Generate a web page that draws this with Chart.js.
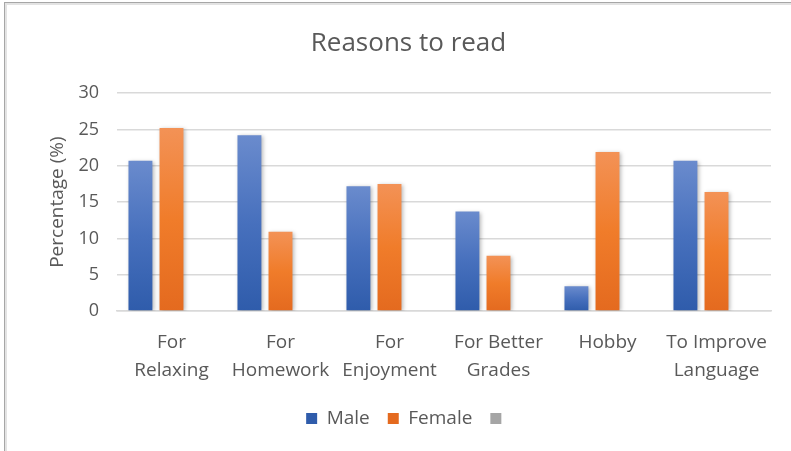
<!DOCTYPE html>
<html>
<head>
<meta charset="utf-8">
<script src="https://cdn.jsdelivr.net/npm/chart.js@4.4.0/dist/chart.umd.min.js"></script>
<style>
  html, body { margin: 0; padding: 0; background: #fff; }
  #wrap { position: relative; width: 791px; height: 451px; overflow: hidden; }
  #frame { position: absolute; left: 4px; top: 2px; right: -10px; bottom: -10px;
    border-left: 1px solid #a6a6a6; border-top: 1px solid #a6a6a6; }
  #frame2 { position: absolute; left: 0; top: 0; right: 0; bottom: 0;
    border-left: 2px solid #e3e3e3; border-top: 2px solid #e3e3e3; }
  canvas { position: absolute; left: 0; top: 0; }
</style>
</head>
<body>
<div id="wrap">
  <div id="frame"><div id="frame2"></div></div>
  <canvas id="chart" width="791" height="451"></canvas>
</div>
<script>
// ─── data ───
const categories = [
  ['For', 'Relaxing'], ['For', 'Homework'], ['For', 'Enjoyment'],
  ['For Better', 'Grades'], ['Hobby'], ['To Improve', 'Language']
];
const maleValues   = [20.7, 24.2, 17.2, 13.7, 3.4, 20.7];
const femaleValues = [25.2, 10.9, 17.5, 7.6, 21.9, 16.4];
const otherValues  = [null, null, null, null, null, null];
const yTicks = [0, 5, 10, 15, 20, 25, 30];

const textColor = '#595959';
const gridColor = '#d9d9d9';
const font = 'Open Sans';

// per-bar vertical gradient like the Office bar fill
function barGradient(top, mid, bottom) {
  return ctx => {
    const chart = ctx.chart;
    if (!chart.chartArea || ctx.raw == null) return mid;
    const y = chart.scales.y;
    const y0 = y.getPixelForValue(ctx.raw), y1 = y.getPixelForValue(0);
    if (!isFinite(y0) || y1 - y0 < 1) return mid;
    const g = chart.ctx.createLinearGradient(0, y0, 0, y1);
    g.addColorStop(0, top);
    g.addColorStop(0.5, mid);
    g.addColorStop(1, bottom);
    return g;
  };
}

// soft drop shadow under the bars
const barShadow = {
  id: 'barShadow',
  beforeDatasetsDraw(chart) {
    const c = chart.ctx;
    c.save();
    c.shadowColor = 'rgba(0,0,0,0.28)';
    c.shadowBlur = 4;
    c.shadowOffsetX = 1.5;
    c.shadowOffsetY = 1;
  },
  afterDatasetsDraw(chart) { chart.ctx.restore(); }
};

new Chart(document.getElementById('chart'), {
  type: 'bar',
  data: {
    labels: categories,
    datasets: [
      { label: 'Male', data: maleValues,
        backgroundColor: barGradient('#6a8bcd', '#4770bd', '#2f5cab') },
      { label: 'Female', data: femaleValues,
        backgroundColor: barGradient('#f39256', '#f07c2a', '#e46a1f') },
      { label: '', data: otherValues, backgroundColor: '#a5a5a5' }
    ]
  },
  options: {
    responsive: false,
    animation: false,
    categoryPercentage: 0.855,
    barPercentage: 0.77,
    layout: { padding: { left: 46, right: 20, top: 0, bottom: 13 } },
    plugins: {
      title: {
        display: true, text: 'Reasons to read', color: textColor,
        font: { family: font, size: 26, weight: 'normal' },
        padding: { top: 28, bottom: 34 }
      },
      legend: {
        position: 'bottom',
        labels: {
          color: textColor, boxWidth: 11, boxHeight: 11, padding: 18,
          font: { family: font, size: 19 }
        }
      },
      tooltip: { enabled: false }
    },
    scales: {
      x: {
        grid: { display: false, drawTicks: false },
        border: { color: gridColor, width: 1.5 },
        ticks: { color: textColor, padding: 18, maxRotation: 0, autoSkip: false,
          font: { family: font, size: 19, lineHeight: 1.45 } },
        afterFit: s => { s.height = 80; }
      },
      y: {
        min: 0, max: 30,
        afterBuildTicks: s => { s.ticks = yTicks.map(v => ({ value: v })); },
        grid: { color: gridColor, lineWidth: 1.5, drawTicks: false },
        border: { display: false },
        ticks: { color: textColor, padding: 18, font: { family: font, size: 18 } },
        title: { display: true, text: 'Percentage (%)', color: textColor, padding: 0,
          font: { family: font, size: 19 } },
        afterFit: s => { s.width = 71; }
      }
    }
  },
  plugins: [barShadow]
});
</script>
</body>
</html>
